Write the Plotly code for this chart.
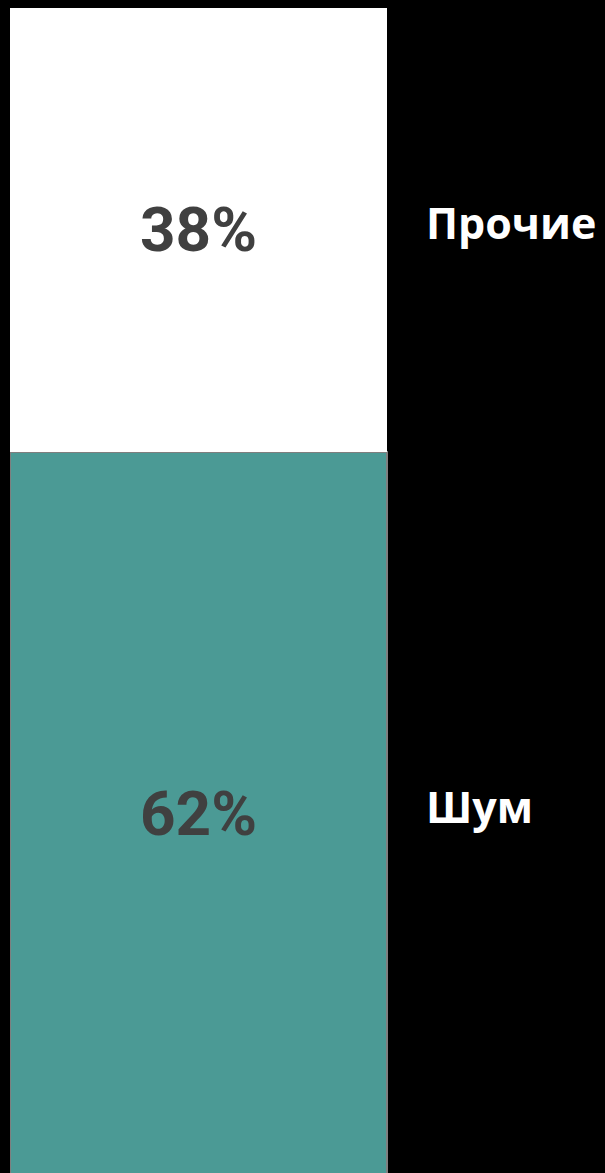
import plotly.graph_objects as go

categories = ["Шум", "Прочие"]
values = [62, 38]
labels = ["62%", "38%"]
colors = ["#4b9a95", "#ffffff"]
line_colors = ["#7f7f7f", "#ffffff"]
line_widths = [2, 0]

fig = go.Figure()
base = 0
for cat, v, lab, c, lc, lw in zip(categories, values, labels, colors, line_colors, line_widths):
    fig.add_trace(go.Bar(
        x=[0], y=[v], name=cat, width=1,
        marker=dict(color=c, line=dict(color=lc, width=lw)),
        text=[lab], textposition="inside", insidetextanchor="middle",
        textfont=dict(family="Roboto", size=62, color="#404040", weight="bold"),
        hoverinfo="skip",
    ))
    fig.add_annotation(
        x=0.695, xref="paper", y=base + v / 2, yref="y",
        text=f"<b>{cat}</b>", showarrow=False, xanchor="left", yanchor="middle",
        yshift=7,
        font=dict(family="Open Sans", size=43, color="#ffffff"),
    )
    base += v

fig.update_layout(
    barmode="stack",
    width=605, height=1173,
    margin=dict(l=10, r=0, t=8, b=0),
    paper_bgcolor="#000000", plot_bgcolor="#000000",
    showlegend=False,
    uniformtext=dict(mode=False),
    xaxis=dict(range=[-0.5, 1.078], visible=False, fixedrange=True),
    yaxis=dict(range=[0.2, 100], visible=False, fixedrange=True),
)
fig.write_html("out.html")
